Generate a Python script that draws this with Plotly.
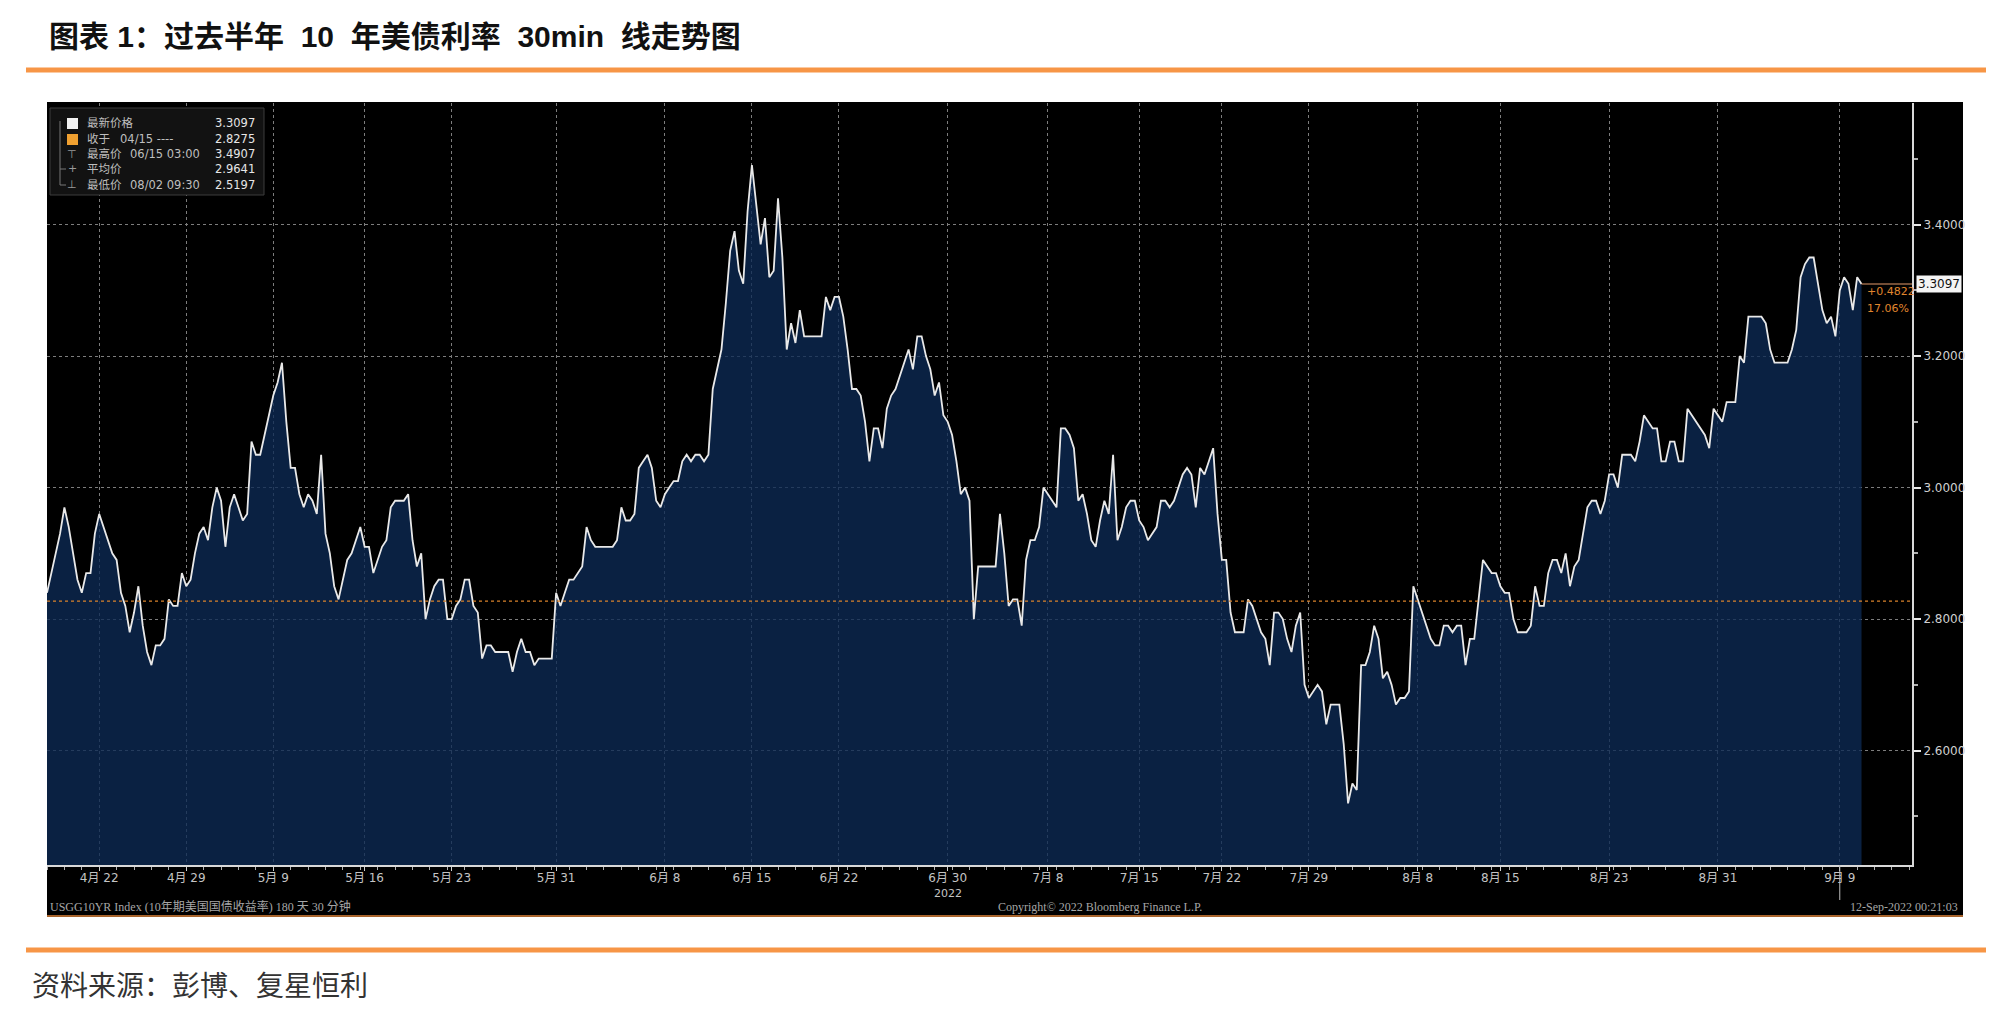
import plotly.graph_objects as go

# ---------------- data (6-hour samples of the 30-min series) -------------
values = [
    2.84, 2.87, 2.90, 2.93, 2.97, 2.94, 2.90, 2.86, 2.84, 2.87,
    2.87, 2.93, 2.96, 2.94, 2.92, 2.90, 2.89, 2.84, 2.82, 2.78,
    2.81, 2.85, 2.79, 2.75, 2.73, 2.76, 2.76, 2.77, 2.83, 2.82,
    2.82, 2.87, 2.85, 2.86, 2.90, 2.93, 2.94, 2.92, 2.97, 3.00,
    2.98, 2.91, 2.97, 2.99, 2.97, 2.95, 2.96, 3.07, 3.05, 3.05,
    3.08, 3.11, 3.14, 3.16, 3.19, 3.10, 3.03, 3.03, 2.99, 2.97,
    2.99, 2.98, 2.96, 3.05, 2.93, 2.90, 2.85, 2.83, 2.86, 2.89,
    2.90, 2.92, 2.94, 2.91, 2.91, 2.87, 2.89, 2.91, 2.92, 2.97,
    2.98, 2.98, 2.98, 2.99, 2.92, 2.88, 2.90, 2.80, 2.83, 2.85,
    2.86, 2.86, 2.80, 2.80, 2.82, 2.83, 2.86, 2.86, 2.82, 2.81,
    2.74, 2.76, 2.76, 2.75, 2.75, 2.75, 2.75, 2.72, 2.75, 2.77,
    2.75, 2.75, 2.73, 2.74, 2.74, 2.74, 2.74, 2.84, 2.82, 2.84,
    2.86, 2.86, 2.87, 2.88, 2.94, 2.92, 2.91, 2.91, 2.91, 2.91,
    2.91, 2.92, 2.97, 2.95, 2.95, 2.96, 3.03, 3.04, 3.05, 3.03,
    2.98, 2.97, 2.99, 3.00, 3.01, 3.01, 3.04, 3.05, 3.04, 3.05,
    3.05, 3.04, 3.05, 3.15, 3.18, 3.21, 3.28, 3.36, 3.39, 3.33,
    3.31, 3.42, 3.4907, 3.43, 3.37, 3.41, 3.32, 3.33, 3.44, 3.35,
    3.21, 3.25, 3.22, 3.27, 3.23, 3.23, 3.23, 3.23, 3.23, 3.29,
    3.27, 3.29, 3.29, 3.26, 3.21, 3.15, 3.15, 3.14, 3.10, 3.04,
    3.09, 3.09, 3.06, 3.12, 3.14, 3.15, 3.17, 3.19, 3.21, 3.18,
    3.23, 3.23, 3.20, 3.18, 3.14, 3.16, 3.11, 3.10, 3.08, 3.04,
    2.99, 3.00, 2.98, 2.80, 2.88, 2.88, 2.88, 2.88, 2.88, 2.96,
    2.90, 2.82, 2.83, 2.83, 2.79, 2.89, 2.92, 2.92, 2.94, 3.00,
    2.99, 2.98, 2.97, 3.09, 3.09, 3.08, 3.06, 2.98, 2.99, 2.96,
    2.92, 2.91, 2.95, 2.98, 2.96, 3.05, 2.92, 2.94, 2.97, 2.98,
    2.98, 2.95, 2.94, 2.92, 2.93, 2.94, 2.98, 2.98, 2.97, 2.98,
    3.00, 3.02, 3.03, 3.02, 2.97, 3.03, 3.02, 3.04, 3.06, 2.96,
    2.89, 2.89, 2.81, 2.78, 2.78, 2.78, 2.83, 2.82, 2.80, 2.78,
    2.77, 2.73, 2.81, 2.81, 2.80, 2.77, 2.75, 2.79, 2.81, 2.70,
    2.68, 2.69, 2.70, 2.69, 2.64, 2.67, 2.67, 2.67, 2.61, 2.5197,
    2.55, 2.54, 2.73, 2.73, 2.75, 2.79, 2.77, 2.71, 2.72, 2.70,
    2.67, 2.68, 2.68, 2.69, 2.85, 2.83, 2.81, 2.79, 2.77, 2.76,
    2.76, 2.79, 2.79, 2.78, 2.79, 2.79, 2.73, 2.77, 2.77, 2.83,
    2.89, 2.88, 2.87, 2.87, 2.85, 2.84, 2.84, 2.80, 2.78, 2.78,
    2.78, 2.79, 2.85, 2.82, 2.82, 2.87, 2.89, 2.89, 2.87, 2.90,
    2.85, 2.88, 2.89, 2.93, 2.97, 2.98, 2.98, 2.96, 2.98, 3.02,
    3.02, 3.00, 3.05, 3.05, 3.05, 3.04, 3.07, 3.11, 3.10, 3.09,
    3.09, 3.04, 3.04, 3.07, 3.07, 3.04, 3.04, 3.12, 3.11, 3.10,
    3.09, 3.08, 3.06, 3.12, 3.11, 3.10, 3.13, 3.13, 3.13, 3.20,
    3.19, 3.26, 3.26, 3.26, 3.26, 3.25, 3.21, 3.19, 3.19, 3.19,
    3.19, 3.21, 3.24, 3.32, 3.34, 3.35, 3.35, 3.31, 3.27, 3.25,
    3.26, 3.23, 3.30, 3.32, 3.31, 3.27, 3.32, 3.3097,
]
bars = list(range(len(values)))

date_tick_bars = [12, 32, 52, 73, 93, 117, 142, 162, 182, 207, 230, 251, 270, 290, 315, 334, 359, 384, 412]
date_tick_labels = ["4月 22", "4月 29", "5月 9", "5月 16", "5月 23", "5月 31", "6月 8", "6月 15",
                    "6月 22", "6月 30", "7月 8", "7月 15", "7月 22", "7月 29", "8月 8", "8月 15",
                    "8月 23", "8月 31", "9月 9"]
year_label_bar = 207
year_label = "2022"
today_bar = 412
x_end = 428.6

ref_close = 2.8275
y_ticks = [2.6, 2.8, 3.0, 3.2, 3.4]
y_ticktext = [f"{v:.4f}" for v in y_ticks]
y_range = [2.426, 3.585]

legend_names = ["最新价格", "收于", "最高价", "平均价", "最低价"]
legend_details = ["", "04/15 ----", "06/15 03:00", "", "08/02 09:30"]
legend_values = ["3.3097", "2.8275", "3.4907", "2.9641", "2.5197"]
legend_marks = ["", "", "⊤", "+", "⊥"]

change_text = "+0.4822"
pct_text = "17.06%"

title = "<b>图表 1：过去半年  10  年美债利率  30min  线走势图</b>"
source = "资料来源：彭博、复星恒利"
footer_left = "USGG10YR Index (10年期美国国债收益率) 180 天 30 分钟"
footer_mid = "Copyright© 2022 Bloomberg Finance L.P."
footer_right = "12-Sep-2022 00:21:03"

# ---------------- layout geometry (page has an 8px body margin) ----------------
OFF = 8
W, H = 2012 - OFF, 1015 - OFF
L, R, T, B = 47 - OFF, 100, 103 - OFF, 150
PW = W - L - R
PH = H - T - B


def px(x):
    return (x - OFF - L) / PW


def py(y):
    return (H - B - (y - OFF)) / PH


ORANGE = "#F79646"
GRID = "#7d7d7d"
TXT = "#c4c4c4"
MONO = "DejaVu Sans, Noto Sans CJK SC"

fig = go.Figure()
fig.add_trace(go.Scatter(
    x=bars, y=values, mode="lines",
    line=dict(color="#e9e9e9", width=1.8),
    fill="tozeroy", fillcolor="rgba(13,42,84,0.78)",
    hoverinfo="skip", showlegend=False,
))

shapes = [
    dict(type="rect", xref="paper", yref="paper", x0=px(47), x1=px(1963), y0=py(916), y1=py(102),
         fillcolor="black", line=dict(width=0), layer="below"),
    dict(type="line", xref="paper", yref="paper", x0=px(47), x1=px(1963), y0=py(916), y1=py(916),
         line=dict(color="#a8642c", width=2)),
    dict(type="line", xref="paper", yref="paper", x0=px(26), x1=px(1986), y0=py(70), y1=py(70),
         line=dict(color=ORANGE, width=5)),
    dict(type="line", xref="paper", yref="paper", x0=px(26), x1=px(1986), y0=py(950), y1=py(950),
         line=dict(color=ORANGE, width=5)),
    dict(type="line", xref="paper", yref="y", x0=0, x1=1, y0=ref_close, y1=ref_close,
         line=dict(color="#d9822b", width=1.2, dash="dot")),
    dict(type="line", xref="x", yref="y", x0=bars[-1], x1=x_end, y0=values[-1], y1=values[-1],
         line=dict(color="#e39a6a", width=1.2)),
    dict(type="line", xref="x", yref="paper", x0=today_bar, x1=today_bar, y0=py(865), y1=py(900),
         line=dict(color="#bdbdbd", width=1)),
    dict(type="rect", xref="paper", yref="paper", x0=px(50), x1=px(264), y0=py(195), y1=py(108),
         fillcolor="#121212", line=dict(color="#3c3c3c", width=1)),
    dict(type="rect", xref="paper", yref="paper", x0=px(67), x1=px(78), y0=py(129), y1=py(118),
         fillcolor="#f2f2f2", line=dict(width=0)),
    dict(type="rect", xref="paper", yref="paper", x0=px(67), x1=px(78), y0=py(145), y1=py(134),
         fillcolor="#f0a030", line=dict(width=0)),
    dict(type="line", xref="paper", yref="paper", x0=px(60), x1=px(60), y0=py(185), y1=py(121),
         line=dict(color="#777777", width=1)),
    dict(type="line", xref="paper", yref="paper", x0=px(60), x1=px(66), y0=py(185), y1=py(185),
         line=dict(color="#777777", width=1)),
    dict(type="line", xref="paper", yref="paper", x0=px(60), x1=px(66), y0=py(169), y1=py(169),
         line=dict(color="#777777", width=1)),
]

ann = []
ann.append(dict(x=px(47), y=py(37), xref="paper", yref="paper", xanchor="left", yanchor="middle",
                text=title, showarrow=False,
                font=dict(family="Liberation Sans, Noto Sans CJK SC", size=30, color="#111111")))
ann.append(dict(x=px(30), y=py(984), xref="paper", yref="paper", xanchor="left", yanchor="middle",
                text=source, showarrow=False,
                font=dict(family="Noto Sans CJK SC", size=28, color="#333333")))

row_y = [123, 139, 154, 169, 185]
detail_x = [0, 118, 128, 0, 128]
for i in range(len(legend_names)):
    f = dict(family=MONO, size=11.5, color="#bfbfbf")
    ann.append(dict(x=px(85), y=py(row_y[i]), xref="paper", yref="paper", xanchor="left",
                    yanchor="middle", text=legend_names[i], showarrow=False, font=f))
    if legend_details[i]:
        ann.append(dict(x=px(detail_x[i]), y=py(row_y[i]), xref="paper", yref="paper", xanchor="left",
                        yanchor="middle", text=legend_details[i], showarrow=False, font=f))
    ann.append(dict(x=px(257), y=py(row_y[i]), xref="paper", yref="paper", xanchor="right",
                    yanchor="middle", text=legend_values[i], showarrow=False,
                    font=dict(family=MONO, size=11.5, color="#e6e6e6")))
    if legend_marks[i]:
        ann.append(dict(x=px(72), y=py(row_y[i]), xref="paper", yref="paper", xanchor="center",
                        yanchor="middle", text=legend_marks[i], showarrow=False,
                        font=dict(family=MONO, size=11, color="#9a9a9a")))

ann.append(dict(x=1, y=values[-1], xref="paper", yref="y", xanchor="left", yanchor="middle",
                xshift=4, text=f"{values[-1]:.4f}", showarrow=False, bgcolor="#f4f4f4",
                borderpad=1, font=dict(family=MONO, size=12, color="#111111")))
ann.append(dict(x=px(1865), y=py(291), xref="paper", yref="paper", xanchor="left", yanchor="middle",
                text=change_text, showarrow=False, font=dict(family=MONO, size=11, color="#e0862e")))
ann.append(dict(x=px(1865), y=py(308), xref="paper", yref="paper", xanchor="left", yanchor="middle",
                text=pct_text, showarrow=False, font=dict(family=MONO, size=11, color="#e0862e")))

ann.append(dict(x=year_label_bar, y=py(893), xref="x", yref="paper", xanchor="center", yanchor="middle",
                text=year_label, showarrow=False, font=dict(family=MONO, size=11, color=TXT)))

ff = dict(family="Liberation Serif, Noto Sans CJK SC", size=12, color="#a6a6a6")
ann.append(dict(x=px(48), y=py(907), xref="paper", yref="paper", xanchor="left", yanchor="middle",
                text=footer_left, showarrow=False, font=ff))
ann.append(dict(x=px(1100), y=py(907), xref="paper", yref="paper", xanchor="center", yanchor="middle",
                text=footer_mid, showarrow=False, font=ff))
ann.append(dict(x=px(1960), y=py(907), xref="paper", yref="paper", xanchor="right", yanchor="middle",
                text=footer_right, showarrow=False, font=ff))

fig.update_layout(
    width=W, height=H,
    margin=dict(l=L, r=R, t=T, b=B, pad=0),
    paper_bgcolor="white", plot_bgcolor="black",
    showlegend=False, hovermode=False,
    shapes=shapes, annotations=ann,
    xaxis=dict(
        range=[0, x_end], tickmode="array", tickvals=date_tick_bars, ticktext=date_tick_labels,
        ticks="outside", ticklen=4, tickcolor="#d0d0d0", tickwidth=1, ticklabelstandoff=-3,
        showline=True, linecolor="#d8d8d8", linewidth=2,
        showgrid=True, gridcolor=GRID, griddash="dot", gridwidth=1, zeroline=False,
        tickfont=dict(family=MONO, size=12, color=TXT),
        minor=dict(dtick=4, tick0=0, ticks="outside", ticklen=3, tickcolor="#b0b0b0", showgrid=False),
    ),
    yaxis=dict(
        side="right", range=y_range, tickmode="array", tickvals=y_ticks, ticktext=y_ticktext,
        ticks="outside", ticklen=7, tickwidth=2, tickcolor="#e6e6e6",
        showline=True, linecolor="#d8d8d8", linewidth=2,
        showgrid=True, gridcolor=GRID, griddash="dot", gridwidth=1, zeroline=False,
        tickfont=dict(family=MONO, size=12, color="#d0d0d0"),
        minor=dict(dtick=0.1, tick0=2.5, ticks="outside", ticklen=4, tickcolor="#b0b0b0", showgrid=False),
    ),
)

fig.write_html("out.html")
